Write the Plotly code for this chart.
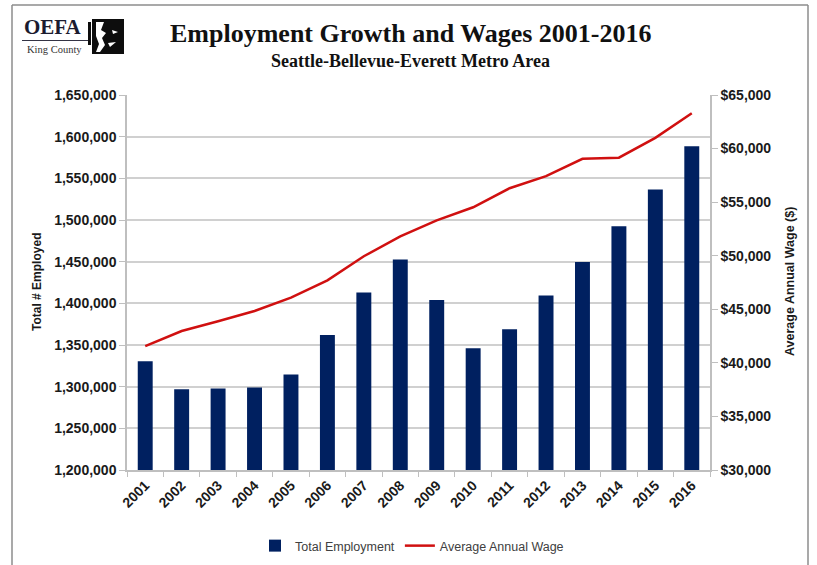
import plotly.graph_objects as go

years = ["2001", "2002", "2003", "2004", "2005", "2006", "2007", "2008",
         "2009", "2010", "2011", "2012", "2013", "2014", "2015", "2016"]
employment = [1330500, 1297000, 1297700, 1299000, 1314500, 1362000, 1413000, 1452500,
              1404000, 1346000, 1369000, 1409500, 1449500, 1492500, 1536500, 1588500]
avg_wage = [41570, 42970, 43880, 44840, 46090, 47700, 49950, 51800,
            53300, 54520, 56300, 57420, 59050, 59150, 61000, 63300]

W, H = 817, 565
L, R, T, B = 127, 710, 95, 470


def px(x):
    return (x - L) / (R - L)


def py(y):
    return (B - y) / (B - T)


fig = go.Figure()
fig.add_trace(go.Bar(x=years, y=employment, name="Total Employment",
                     marker=dict(color="#002060", line=dict(width=0)),
                     yaxis="y"))
fig.add_trace(go.Scatter(x=years, y=avg_wage, name="Average Annual Wage",
                         mode="lines", line=dict(color="#d01010", width=2.5),
                         yaxis="y2"))

tickfont = dict(family="Liberation Sans, Arial, sans-serif", size=14, color="#1a1a1a", weight="bold")

fig.update_layout(
    width=W, height=H,
    margin=dict(l=L, r=W - R, t=T, b=H - B, autoexpand=False),
    paper_bgcolor="white", plot_bgcolor="white",
    bargap=0.59,
    showlegend=True,
    legend=dict(orientation="h", x=px(412), xanchor="center", y=py(546), yanchor="middle",
                font=dict(family="Liberation Sans, Arial, sans-serif", size=12.5, color="#404040"),
                itemwidth=30, traceorder="normal"),
    xaxis=dict(type="category", showgrid=False, showline=True, linecolor="#bfbfbf", linewidth=1.5,
               ticks="outside", tickson="boundaries", ticklen=5, tickcolor="#bfbfbf",
               tickangle=-45,
               tickfont=dict(family="Liberation Sans, Arial, sans-serif", size=14, color="#1a1a1a",
                             weight="bold")),
    yaxis=dict(range=[1200000, 1650000], dtick=50000, tickformat=",",
               showgrid=True, gridcolor="#d0d0d0", gridwidth=1.5,
               showline=True, linecolor="#bfbfbf", linewidth=1.5,
               ticks="outside", ticklen=6, tickcolor="#bfbfbf",
               zeroline=False, tickfont=tickfont),
    yaxis2=dict(range=[30000, 65000], dtick=5000, tickformat=",", tickprefix="$",
                overlaying="y", side="right", showgrid=False,
                showline=True, linecolor="#bfbfbf", linewidth=1.5,
                ticks="outside", ticklen=6, tickcolor="#bfbfbf",
                zeroline=False, tickfont=tickfont),
)

annotations = [
    dict(text="<b>Employment Growth and Wages 2001-2016</b>", x=px(411), y=py(34),
         font=dict(family="Liberation Serif, serif", size=26, color="#111111")),
    dict(text="<b>Seattle-Bellevue-Everett Metro Area</b>", x=px(410), y=py(61),
         font=dict(family="Liberation Serif, serif", size=18, color="#111111")),
    dict(text="<b>Total # Employed</b>", x=px(37), y=py(282), textangle=-90,
         font=dict(family="Liberation Sans, Arial, sans-serif", size=12, color="#1a1a1a")),
    dict(text="<b>Average Annual Wage ($)</b>", x=px(790), y=py(282), textangle=-90,
         font=dict(family="Liberation Sans, Arial, sans-serif", size=12.5, color="#1a1a1a")),
    dict(text="<b>OEFA</b>", x=px(53), y=py(27),
         font=dict(family="Liberation Serif, serif", size=21, color="#1b1b2f")),
    dict(text="King County", x=px(54), y=py(50),
         font=dict(family="Liberation Serif, serif", size=10.5, color="#333333")),
]
for a in annotations:
    a.update(xref="paper", yref="paper", showarrow=False, xanchor="center", yanchor="middle")
fig.update_layout(annotations=annotations)

shapes = [
    # page frame
    dict(type="line", x0=px(12), x1=px(808), y0=py(5), y1=py(5), line=dict(color="#8c8c8c", width=1.5)),
    dict(type="line", x0=px(12), x1=px(12), y0=py(5), y1=py(566), line=dict(color="#8c8c8c", width=1.5)),
    dict(type="line", x0=px(808), x1=px(808), y0=py(5), y1=py(566), line=dict(color="#8c8c8c", width=1.5)),
    # logo underline
    dict(type="line", x0=px(22), x1=px(90), y0=py(40.5), y1=py(40.5), line=dict(color="#333344", width=1.2)),
    # logo block
    dict(type="rect", x0=px(92), x1=px(124), y0=py(54), y1=py(19), fillcolor="#0d0d0d",
         line=dict(width=0)),
    dict(type="rect", x0=px(88), x1=px(91), y0=py(45), y1=py(22), fillcolor="#0d0d0d",
         line=dict(width=0)),
    dict(type="path",
         path=f"M {px(96)} {py(22)} L {px(104)} {py(22)} L {px(101)} {py(30)} L {px(106)} {py(33)} "
              f"L {px(102)} {py(38)} L {px(105)} {py(45)} L {px(100)} {py(52)} L {px(96)} {py(52)} "
              f"L {px(99)} {py(44)} L {px(96)} {py(36)} Z",
         fillcolor="white", line=dict(width=0)),
    dict(type="path",
         path=f"M {px(112)} {py(30)} L {px(118)} {py(32)} L {px(113)} {py(34)} Z",
         fillcolor="white", line=dict(width=0)),
    dict(type="path",
         path=f"M {px(108)} {py(43)} L {px(116)} {py(42)} L {px(110)} {py(47)} Z",
         fillcolor="white", line=dict(width=0)),
]
for s in shapes:
    s.update(xref="paper", yref="paper", layer="above")
fig.update_layout(shapes=shapes)

fig.write_html("out.html")
